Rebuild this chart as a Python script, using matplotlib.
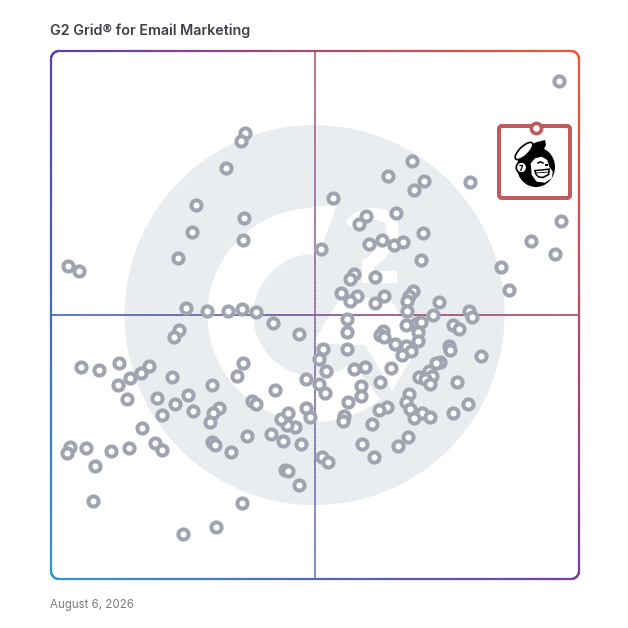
import numpy as np
import matplotlib
matplotlib.use("Agg")
import matplotlib.pyplot as plt
from matplotlib.patches import Circle, Wedge, Polygon, Ellipse, FancyBboxPatch, PathPatch
from matplotlib.collections import LineCollection
from matplotlib.path import Path

TITLE = "G2 Grid® for Email Marketing"
DATE = "August 6, 2026"

# Scores, on a 0-528 scale on both axes
satisfaction = [193.7,189.7,175,144.7,193.3,141.3,192,127.3,270.3,282,336.7,360.7,373,363.3,418.7,345.3,315.3,307.7,371.7,317.7,
 331,342.7,352,370,450,458,302.7,299,323.7,290.3,305.7,298.7,333,324,361.7,357.7,356.3,387.7,356.3,382.3,
 417.7,421,134.7,156.3,176.7,191,205,222,248.3,128.3,123,296.3,296,354.7,365.7,370.3,366.7,402,408,332.3,
 328.7,333,367,344,354.7,359.7,350.7,398,399.3,429.7,295.7,272,267.7,275.3,255,268,273.7,191.7,186,303.3,
 314.3,340.3,389.3,385,378.3,381.3,367.7,374,378.7,406,329,310.3,310,358.3,355.3,359.3,370.7,363.3,378.7,401.7,
 417,336.3,327.7,297,293,292.3,320.7,310.7,356.7,347.3,323.3,271.3,276.7,248,234,236.7,191,249.7,232,220.3,
 243.7,236,229.7,237.3,254.7,259.3,223.7,201.3,204.7,167.7,162,159.3,195.7,161.3,164.3,180,160.7,120.7,136.7,123.7,
 141.7,106,111.3,91.3,104,111.3,78.3,75.7,78.7,90.3,98,68,67,17,28,30,48,19,16,35,60,44,42,132,165,508,510,504,480]
market_presence = [446.3,438,411,373.7,361.3,347.3,338.7,321,329.7,381,403,418,397.7,388.7,397,366,362.7,355.3,346.3,334.7,
 338.7,334.3,337,319.3,312.3,289,305.3,300.3,301.7,286.3,283,278.3,283.3,276.3,287.7,283.3,278.3,277,268.3,264,
 267.7,262.3,271.3,268,268.3,270.3,266.7,255.7,245,249.3,241.7,260,246.7,253.7,255.7,256.7,247.3,254.3,250,247.7,
 244,242.3,238.3,234.7,233,228.3,223.7,233.3,229,222.7,230,229.7,220,208,200.3,194.7,186,216,202.7,210.3,
 212,211,217.3,215.7,208.3,203,201.7,199.7,195,197,197.3,193,183.3,185.3,177.3,169.7,165.7,160.7,161.7,165.7,
 175,171.7,168.7,177.3,163.3,158.3,154.7,135.3,142.3,133.3,122.3,121.7,117,93.7,109.3,108,75.7,135.3,138.3,144.7,
 152.3,154.3,160,165.7,171.3,162.3,189.3,177.7,175.3,171.3,165.7,157,143.3,137,133.7,127,194.3,202,184.3,175.3,
 167.7,180.7,163.7,151,136.3,129.3,131,180,201.3,206.3,213,216.3,194,313,308,212,209,132,126,131,128,113,78,45,52,498,358,325,338]
leader_satisfaction = [485]
leader_presence = [451.5]

CORNERS = {"tl": "#5a3eb2", "tr": "#fb5530", "bl": "#2b96d8", "br": "#7a3aa2"}
GREY = "#eaedf0"
RING = "#a0a4b1"
LEADER = "#c05a5c"

rgb = {k: np.array(matplotlib.colors.to_rgb(v)) for k, v in CORNERS.items()}
L, R, T, B = 51.0, 579.0, 51.0, 579.0


def grad(x, y):
    u = (x - L) / (R - L)
    v = (y - T) / (B - T)
    return (rgb["tl"] * (1 - u) + rgb["tr"] * u) * (1 - v) + (rgb["bl"] * (1 - u) + rgb["br"] * u) * v


def gradient_line(ax, xs, ys, lw, alpha=1.0, z=3):
    pts = np.column_stack([xs, ys])
    segs = np.stack([pts[:-1], pts[1:]], axis=1)
    cols = [(*grad(*(s.mean(axis=0))), alpha) for s in segs]
    ax.add_collection(LineCollection(segs, colors=cols, linewidths=lw, capstyle="round", zorder=z))


fig = plt.figure(figsize=(6.28, 6.28), dpi=100, facecolor="white")
PX = 0.72  # points per pixel at dpi 100

# decoration layer in figure pixels
bg = fig.add_axes([0, 0, 1, 1])
bg.set_xlim(0, 628)
bg.set_ylim(628, 0)
bg.axis("off")

# watermark
cx, cy = 314.5, 315.0
bg.add_patch(Circle((cx, cy), 190, fc=GREY, ec="none", zorder=1))
bg.add_patch(Wedge((cx, cy), 107, 52, 277, width=46, fc="white", ec="none", zorder=1.1))
bg.add_patch(Polygon([(312, 207), (337, 205), (318, 256), (312, 256)], fc="white", ec="none", zorder=1.1))
# triangle of the mark
bg.add_patch(Polygon([(313, 343), (340, 298), (390, 298), (418, 345), (413, 355), (392, 391), (365, 345)],
                     fc="white", ec="none", zorder=1.2))
# numeral of the mark
v2 = [(350, 226), (358, 214), (372, 214), (396, 213), (392, 236), (388, 250), (368, 264), (368, 277), (397, 277)]
c2 = [Path.MOVETO, Path.CURVE3, Path.CURVE3, Path.CURVE3, Path.CURVE3, Path.CURVE3, Path.CURVE3, Path.LINETO, Path.LINETO]
bg.add_patch(PathPatch(Path(v2, c2), fc="none", ec="white", lw=12 * PX, capstyle="butt", joinstyle="miter", zorder=1.2))

# frame with rounded corners, coloured along its length
r = 8.0
t = np.linspace(0, np.pi / 2, 16)
n = 120
fx = np.concatenate([
    np.linspace(L + r, R - r, n), R - r + r * np.sin(t), np.full(n, R), R - r + r * np.cos(t),
    np.linspace(R - r, L + r, n), L + r - r * np.sin(t), np.full(n, L), L + r - r * np.cos(t)])
fy = np.concatenate([
    np.full(n, T), T + r - r * np.cos(t), np.linspace(T + r, B - r, n), B - r + r * np.sin(t),
    np.full(n, B), B - r + r * np.cos(t), np.linspace(B - r, T + r, n), T + r - r * np.sin(t)])
gradient_line(bg, fx, fy, 2.2 * PX)
# quadrant lines
gradient_line(bg, np.linspace(L, R, 200), np.full(200, 315.0), 1.6 * PX, z=2)
gradient_line(bg, np.full(200, 315.0), np.linspace(T, B, 200), 1.6 * PX, alpha=0.8, z=2)

# data layer
ax = fig.add_axes([L / 628, 1 - B / 628, (R - L) / 628, (B - T) / 628])
ax.set_xlim(0, 528)
ax.set_ylim(0, 528)
ax.axis("off")
ax.patch.set_alpha(0)
ax.set_zorder(2)
ax.scatter(satisfaction, market_presence, s=(10.2 * PX) ** 2, facecolor="white", edgecolor=RING,
           linewidth=4.0 * PX, zorder=4, clip_on=False)

# leader card and logo, beneath the leader's own point
top = fig.add_axes([0, 0, 1, 1])
top.set_xlim(0, 628)
top.set_ylim(628, 0)
top.axis("off")
top.patch.set_alpha(0)
top.set_zorder(3)
top.add_patch(FancyBboxPatch((499, 126), 71, 72, boxstyle="round,pad=0,rounding_size=3", fc="white",
                             ec=LEADER, lw=4 * PX, zorder=5))

K = "black"
top.add_patch(Ellipse((536, 167), 38, 40, fc=K, ec="none", zorder=6))
top.add_patch(Polygon([(525, 150), (530, 145), (537, 142), (545, 140), (546, 145), (544, 149), (533, 155), (527, 158)],
                      fc=K, ec="none", zorder=6))
top.add_patch(Ellipse((524, 151), 23, 9, angle=-44, fc="white", ec=K, lw=1.2, zorder=6.1))
top.add_patch(Ellipse((521.5, 167.5), 10.5, 11, fc="white", ec=K, lw=1.2, zorder=6.3))
top.add_patch(Polygon([(530.7, 163.3), (535, 158.3), (541.7, 156.7), (547.3, 160), (549.3, 166.7), (552.8, 171.7),
                       (551.7, 178.3), (545, 182.7), (536.7, 181.7), (531.7, 175)],
                      fc="white", ec="none", zorder=6.3))
top.add_patch(Polygon([(534, 170), (550, 168.3), (549.3, 175), (543.3, 178.3), (538.3, 177.7), (535, 174.3)],
                      fc=K, ec="none", zorder=6.4))
top.add_patch(Polygon([(536, 171.2), (548.4, 170), (547.8, 174), (543, 176.6), (538.8, 176.2), (536.6, 173.8)],
                      fc="white", ec="none", zorder=6.5))
top.plot([535.5, 549.5], [173, 172], color=K, lw=0.6, zorder=6.6)
top.plot([538, 540.5, 543], [163, 161.8, 163], color=K, lw=1.1, zorder=6.6)
top.plot([546.2, 547.2], [165, 165], color=K, lw=1.4, zorder=6.6)
top.plot([520, 522.5, 520.8], [165.5, 165.5, 170.5], color=K, lw=0.9, zorder=6.6)

# the leader's own point sits on the card edge
lead = fig.add_axes(ax.get_position())
lead.set_xlim(0, 528)
lead.set_ylim(0, 528)
lead.axis("off")
lead.patch.set_alpha(0)
lead.set_zorder(4)
lead.scatter(leader_satisfaction, leader_presence, s=(10.2 * PX) ** 2, facecolor="white", edgecolor=LEADER,
             linewidth=3.7 * PX, clip_on=False)

# texts
fig.text(50 / 628, 1 - 34.5 / 628, TITLE, family=["Inter", "DejaVu Sans"], fontweight="semibold", fontsize=10.3,
         color="#3f3f46", ha="left", va="baseline")
fig.text(50 / 628, 1 - 608 / 628, DATE, family=["Inter", "DejaVu Sans"], fontsize=8.3,
         color="#7c7c80", ha="left", va="baseline")

fig.savefig("out.png", dpi=100, facecolor="white")
